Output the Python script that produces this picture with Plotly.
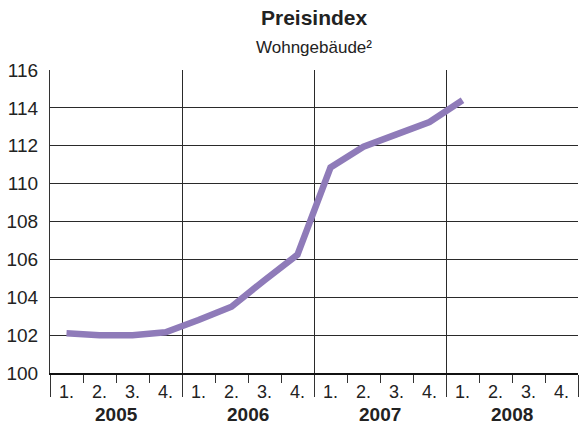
import plotly.graph_objects as go

years = ["2005", "2006", "2007", "2008"]
quarters = ["1.", "2.", "3.", "4."]
index_values = [102.1, 102.0, 102.0, 102.15, 102.8, 103.5, 104.9, 106.25,
                110.85, 111.95, 112.6, 113.25, 114.4]
y_ticks = [100, 102, 104, 106, 108, 110, 112, 114, 116]

FONT = "Liberation Sans, Arial, sans-serif"
LINE_COLOR = "#8f7bb9"
GRID = "#2a2a2a"

n_q = len(years) * len(quarters)
x_pos = [i + 0.5 for i in range(len(index_values))]
q_centers = [i + 0.5 for i in range(n_q)]
q_text = quarters * len(years)

fig = go.Figure()
fig.add_trace(go.Scatter(x=x_pos, y=index_values, mode="lines",
                         line=dict(color=LINE_COLOR, width=6.5),
                         hoverinfo="skip", showlegend=False))
fig.add_trace(go.Scatter(x=[0, n_q], y=[None, None], xaxis="x2", yaxis="y",
                         mode="lines", showlegend=False, hoverinfo="skip"))

fig.update_layout(
    width=579, height=430,
    margin=dict(l=50, r=1, t=70, b=57),
    paper_bgcolor="white", plot_bgcolor="white",
    font=dict(family=FONT, color="#222", size=18),
    xaxis=dict(range=[0, n_q], tickvals=[0, 4, 8, 12, 16], ticks="outside",
               ticklen=22, tickwidth=1.2, tickcolor="#333", automargin=False,
               showticklabels=False, showgrid=True, gridcolor=GRID, gridwidth=1,
               showline=True, linecolor="#111", linewidth=2, zeroline=False,
               minor=dict(tickvals=list(range(n_q + 1)), ticks="outside",
                          ticklen=8, tickwidth=1.2, tickcolor="#333", showgrid=False)),
    xaxis2=dict(range=[0, n_q], overlaying="x", side="bottom", automargin=False,
                tickvals=q_centers, ticktext=q_text, ticks="", showgrid=False,
                showline=False, zeroline=False, ticklabelstandoff=6,
                tickfont=dict(family=FONT, size=18, color="#222")),
    yaxis=dict(range=[100, 116], tickvals=y_ticks, ticks="", showgrid=True,
               gridcolor=GRID, gridwidth=1, showline=True, linecolor="#333",
               linewidth=1.2, zeroline=False, ticklabelstandoff=7, automargin=False,
               tickfont=dict(family=FONT, size=19, color="#222")),
)

plot_h = 430 - 70 - 57
plot_w = 579 - 50 - 1
def px_to_paper(px_x, px_y):
    return (px_x - 50) / plot_w, (430 - 57 - px_y) / plot_h

_, yy = px_to_paper(0, 414)
for i, yr in enumerate(years):
    fig.add_annotation(x=i * 4 + 2, y=yy, xref="x", yref="paper", text=yr,
                       showarrow=False, yanchor="middle",
                       font=dict(family=FONT, size=19, color="#222", weight="bold"))

tx, ty = px_to_paper(314, 18)
fig.add_annotation(x=tx, y=ty, xref="paper", yref="paper", text="Preisindex",
                   showarrow=False, yanchor="middle",
                   font=dict(family=FONT, size=21, color="#222", weight="bold"))
sx, sy = px_to_paper(314, 47)
fig.add_annotation(x=sx, y=sy, xref="paper", yref="paper", text="Wohngebäude²",
                   showarrow=False, yanchor="middle",
                   font=dict(family=FONT, size=17, color="#222"))

fig.write_html("out.html", config={"displayModeBar": False},
               post_script="document.body.style.margin='0px';document.body.style.padding='0px';")
